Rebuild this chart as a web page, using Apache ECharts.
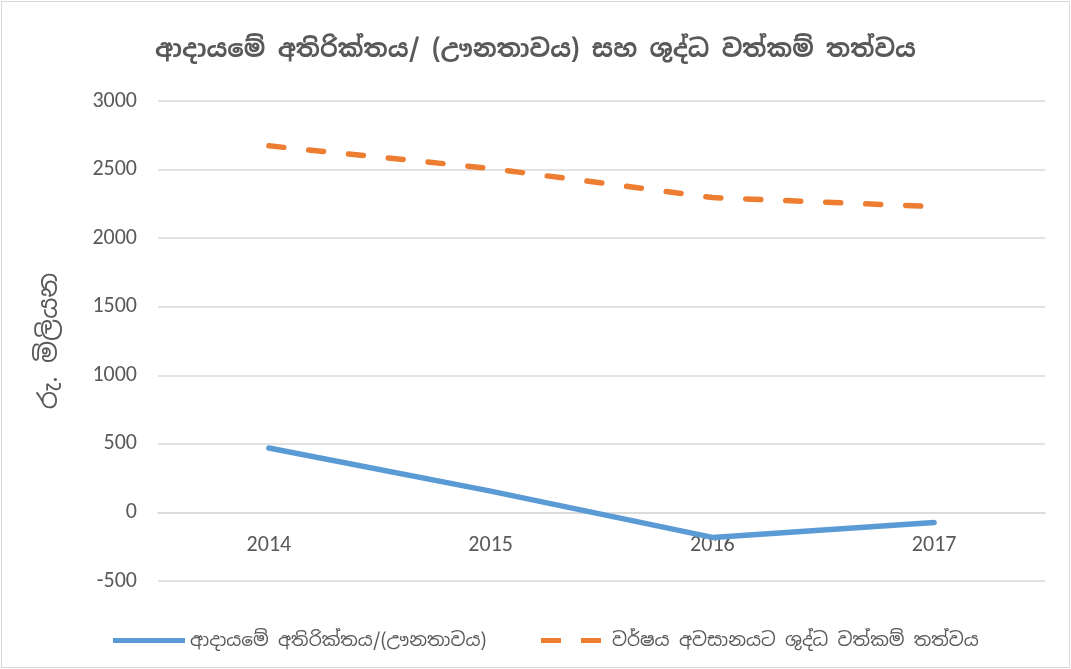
<!DOCTYPE html>
<html><head><meta charset="utf-8">
<script src="https://cdn.jsdelivr.net/npm/echarts@6/dist/echarts.min.js"></script>
<style>
html,body{margin:0;padding:0;background:#fff;}
#c{position:absolute;left:1px;top:1px;width:1067px;height:665px;border:1px solid #d9d9d9;}
</style></head>
<body><div id="c"></div>
<script>
const categories = ['2014','2015','2016','2017'];
const surplusName = 'ආදායමේ අතිරික්තය/(ඌනතාවය)';
const netAssetsName = 'වර්ෂය අවසානයට ශුද්ධ වත්කම් තත්වය';
const surplus = [470, 155, -182, -73];
const netAssets = [2673, 2508, 2296, 2230];
const yTicks = { min: -500, max: 3000, interval: 500 };
const titleText = 'ආදායමේ අතිරික්තය/ (ඌනතාවය) සහ ශුද්ධ වත්කම් තත්වය';
const yName = 'රු. මිලියන';

const font = '"Noto Sans Sinhala","Iskoola Pota","Noto Sans",sans-serif';
const numFont = 'Calibri,"Liberation Sans Narrow","Open Sans",sans-serif';
const legendText = { fontFamily: font, fontSize: 18.5, color: '#595959' };
const chart = echarts.init(document.getElementById('c'));
chart.setOption({
  animation: false,
  title: { text: titleText, left: 'center', top: 31,
    textStyle: { fontFamily: font, fontSize: 24.5, fontWeight: 'bold', color: '#595959' } },
  grid: { left: 156, right: 24, top: 99, bottom: 86 },
  legend: [
    { left: 106, top: 624, itemWidth: 72, itemHeight: 5, textStyle: legendText,
      data: [{ name: surplusName, icon: 'path://M0,0H72V5H0Z' }] },
    { left: 534, top: 624, itemWidth: 72, itemHeight: 5, textStyle: legendText,
      data: [{ name: netAssetsName, icon: 'path://M0,0H20V5H0Z M40,0H60V5H40Z' }] }
  ],
  xAxis: {
    type: 'category', data: categories, offset: -68,
    axisLine: { onZero: false, lineStyle: { color: '#d9d9d9', width: 1.5 } },
    axisTick: { show: false },
    axisLabel: { margin: 21, fontSize: 22, color: '#595959', fontFamily: numFont }
  },
  yAxis: {
    type: 'value', min: yTicks.min, max: yTicks.max, interval: yTicks.interval,
    name: yName, nameLocation: 'middle', nameGap: 95, nameRotate: 90,
    nameTextStyle: { fontFamily: font, fontSize: 26, color: '#595959' },
    axisLine: { show: false }, axisTick: { show: false },
    axisLabel: { margin: 21, fontSize: 22, color: '#595959', fontFamily: numFont,
      formatter: function (v) { return String(v); } },
    splitLine: { lineStyle: { color: '#d9d9d9', width: 1.5 } }
  },
  series: [
    { name: surplusName, type: 'line', data: surplus, symbol: 'none',
      lineStyle: { color: '#5B9BD5', width: 5.5, cap: 'round', join: 'round' }, itemStyle: { color: '#5B9BD5' } },
    { name: netAssetsName, type: 'line', data: netAssets, symbol: 'none',
      lineStyle: { color: '#ED7D31', width: 5.5, type: [15, 25], cap: 'round' }, itemStyle: { color: '#ED7D31' } }
  ]
});
</script></body></html>
